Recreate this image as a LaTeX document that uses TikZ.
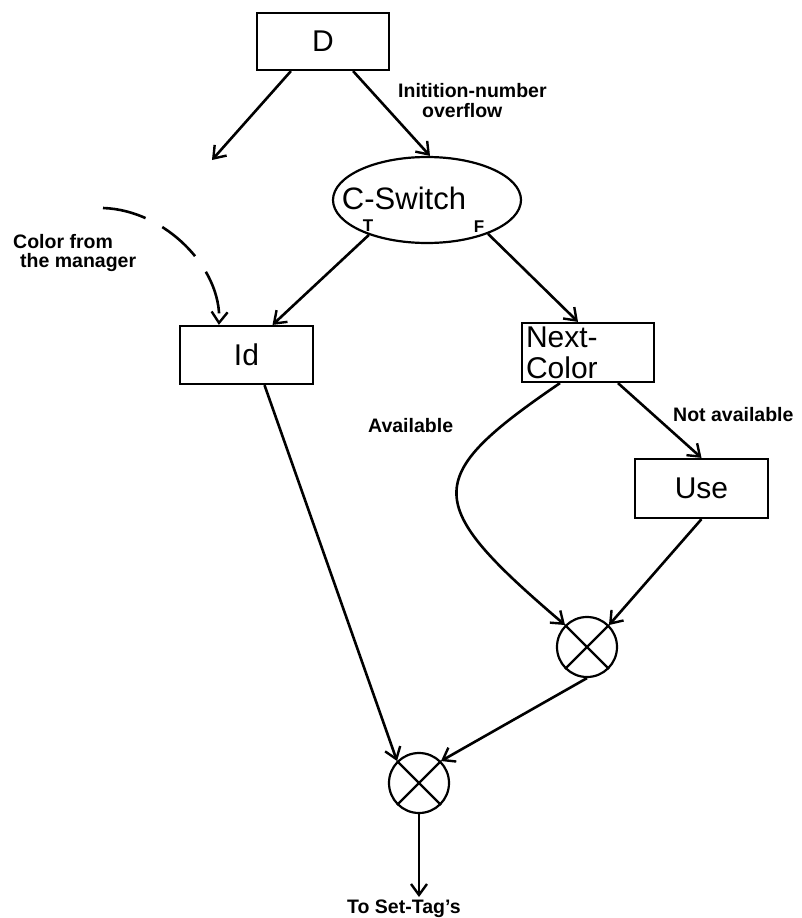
\documentclass[tikz,border=0pt]{standalone}
\usepackage{fontspec}
\setmainfont{Liberation Sans}
\usetikzlibrary{arrows.meta,shapes.geometric,calc}
\begin{document}
\begin{tikzpicture}[x=1pt,y=1pt,
  box/.style={draw,line width=2.2pt,rectangle,inner sep=0pt,font=\fontsize{30}{31}\selectfont},
  arr/.style={line width=2.6pt,-{Straight Barb[length=11pt,width=16pt,line width=2.4pt]}},
  lbl/.style={font=\bfseries\fontsize{19.5}{20}\selectfont,inner sep=0pt,anchor=base west},
  tf/.style={font=\bfseries\fontsize{17}{17}\selectfont,inner sep=0pt,anchor=base},
  mix/.style={draw,circle,line width=2.2pt,minimum size=60pt,inner sep=0pt},
  cross/.style={line width=2.4pt},
]
\useasboundingbox (0,0) rectangle (802,-918);
% nodes
\node[box,minimum width=132pt,minimum height=57pt] (D) at (323,-41.5) {D\hspace{12pt}};
\node[draw,ellipse,line width=2.2pt,minimum width=188pt,minimum height=86pt,inner sep=0pt] (cs) at (427,-200) {};
\node[font=\fontsize{31}{31}\selectfont,inner sep=0pt,anchor=base] (cst) at (404,-209) {C-Switch};
\node[tf] (T) at (368,-231) {T};
\node[tf] (F) at (479,-232) {F};
\node[box,minimum width=133pt,minimum height=58pt] (id) at (246.5,-355) {Id\hspace{20pt}};
\node[box,minimum width=132pt,minimum height=59pt,text width=124pt,align=left] (nc) at (588,-352.5) {Next-\\Color};
\node[box,minimum width=133pt,minimum height=59pt] (use) at (701.5,-488.5) {Use\hspace{20pt}};
\node[mix] (c1) at (587,-647) {};
\node[mix] (c2) at (419,-783) {};
\draw[cross] (c1.north west) -- (c1.south east) (c1.north east) -- (c1.south west);
\draw[cross] (c2.north west) -- (c2.south east) (c2.north east) -- (c2.south west);
% labels
\node[lbl] (l1) at (398,-97) {Initition-number};
\node[lbl] (l2) at (422,-117) {overflow};
\node[lbl] (l3) at (13,-248) {Color from};
\node[lbl] (l4) at (20,-267) {the manager};
\node[lbl] (l5) at (368,-432) {Available};
\node[lbl] (l6) at (673,-421) {Not available};
\node[lbl] (ts) at (347,-913) {To Set-Tag's};
% coordinates
\coordinate (lt) at (212,-160);
\coordinate (dm) at (103,-208);
\coordinate (out) at (419,-897);
% connectors
\draw[arr] ([xshift=35pt]D.south west) -- (lt);
\draw[arr] ([xshift=-37pt]D.south east) -- ([xshift=3pt]cs.north);
\draw[arr] (cs.211) -- ([xshift=26pt]id.north);
\draw[arr] (cs.-29) -- ([xshift=-10pt]nc.north);
\draw[arr] ([xshift=30pt]nc.south) -- (use.north);
\draw[arr] ([xshift=-28pt]nc.south) .. controls (421,-478) and (422,-503) .. (c1.north west);
\draw[arr] (use.south) -- (c1.north east);
\draw[arr] ([xshift=18pt]id.south) -- (c2.north west);
\draw[arr] (c1.south) -- (c2.north east);
\draw[arr] (c2.south) -- (out);
\draw[arr,dash pattern=on 44pt off 19pt] (dm) .. controls (165,-210) and (222,-268) .. ([xshift=40pt]id.north west);
\end{tikzpicture}
\end{document}
